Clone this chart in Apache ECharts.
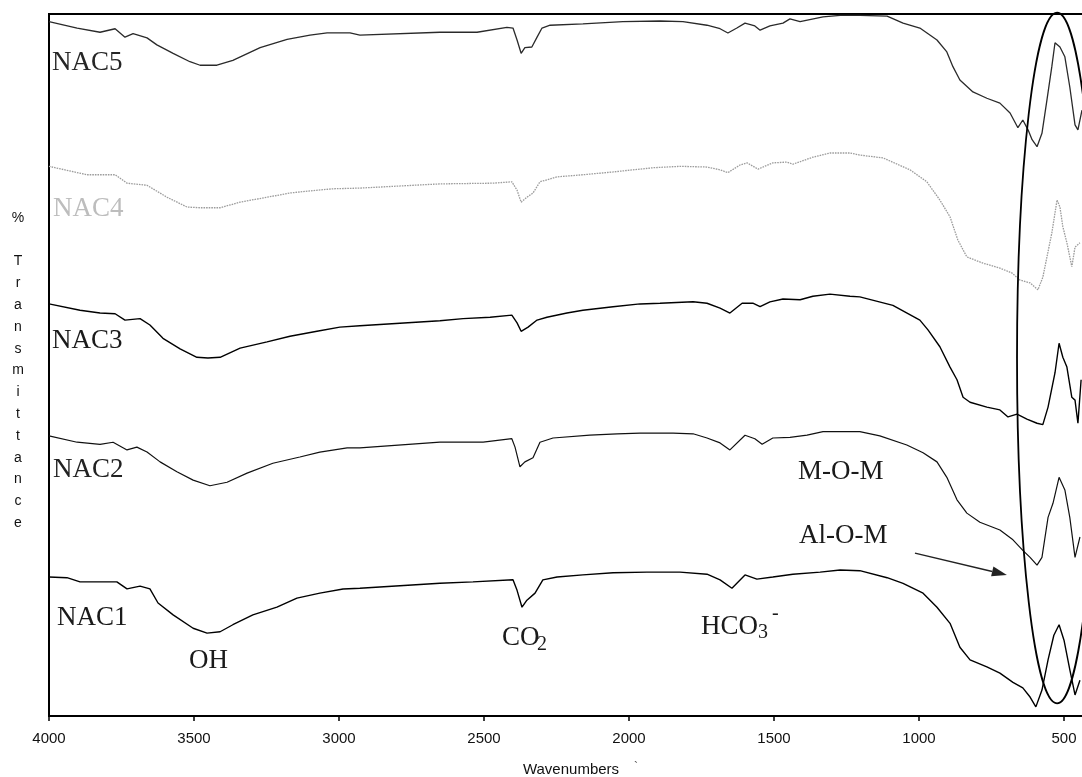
<!DOCTYPE html>
<html>
<head>
<meta charset="utf-8">
<script src="https://cdn.jsdelivr.net/npm/echarts@6/dist/echarts.min.js"></script>
<style>
  html, body { margin: 0; padding: 0; background: #fff; }
  #chart { width: 1082px; height: 777px; }
</style>
</head>
<body>
<div id="chart"></div>
<script>
// FTIR spectra of the NAC samples, stacked (offset % transmittance), wavenumber in cm-1.
const xTicks = [4000, 3500, 3000, 2500, 2000, 1500, 1000, 500];

const nac5 = [
  [4000, 98.9], [3903, 98.0], [3824, 97.4], [3772, 97.9], [3738, 96.7], [3710, 97.2],
  [3662, 96.6], [3628, 95.6], [3572, 94.4], [3514, 93.2], [3479, 92.7], [3421, 92.7],
  [3366, 93.4], [3272, 95.2], [3179, 96.4], [3100, 97.0], [3041, 97.3], [2962, 97.3],
  [2928, 97.0], [2652, 97.4], [2524, 97.4], [2421, 98.1], [2400, 98.0], [2386, 96.3],
  [2372, 94.4], [2359, 95.2], [2335, 95.3], [2317, 96.7], [2300, 98.0], [2272, 98.4],
  [2159, 98.6], [2021, 98.9], [1893, 99.0], [1814, 98.9], [1731, 98.4], [1686, 97.9],
  [1659, 97.3], [1628, 98.0], [1600, 98.7], [1566, 98.3], [1548, 97.7], [1514, 98.3],
  [1469, 98.7], [1445, 99.3], [1410, 98.9], [1331, 99.6], [1272, 99.8], [1204, 99.8],
  [1110, 99.7], [1055, 98.7], [997, 98.0], [938, 96.3], [904, 94.6], [883, 92.5],
  [859, 90.6], [814, 88.9], [766, 88.0], [721, 87.3], [686, 85.9], [659, 83.8],
  [642, 84.9], [624, 83.5], [610, 82.1], [593, 81.1], [576, 83.0], [559, 87.7],
  [542, 92.5], [531, 95.9], [514, 95.3], [497, 93.9], [480, 89.6], [462, 84.2],
  [452, 83.5], [438, 86.3]
];

const nac4 = [
  [4000, 78.3], [3869, 77.1], [3772, 77.1], [3731, 75.9], [3662, 75.6], [3593, 73.9],
  [3524, 72.5], [3479, 72.4], [3410, 72.4], [3341, 73.2], [3248, 73.9], [3169, 74.5],
  [3100, 74.8], [3021, 75.1], [2928, 75.2], [2652, 75.8], [2469, 75.9], [2404, 76.1],
  [2386, 74.9], [2372, 73.2], [2352, 73.9], [2331, 74.5], [2307, 76.1], [2248, 76.8],
  [2159, 77.1], [2055, 77.5], [1917, 78.1], [1824, 78.3], [1731, 78.2], [1686, 77.8],
  [1659, 77.4], [1617, 78.5], [1593, 78.8], [1555, 77.9], [1504, 78.8], [1455, 78.9],
  [1435, 78.6], [1366, 79.6], [1307, 80.2], [1238, 80.2], [1204, 79.9], [1124, 79.5],
  [1031, 77.8], [973, 76.1], [928, 73.5], [893, 71.1], [866, 67.8], [835, 65.4],
  [779, 64.5], [721, 63.8], [679, 63.1], [652, 62.1], [617, 61.7], [590, 60.7],
  [573, 62.5], [542, 68.8], [524, 73.5], [514, 72.5], [504, 69.7], [490, 67.4],
  [473, 64.0], [462, 66.8], [445, 67.4]
];

const nac3 = [
  [4000, 58.7], [3893, 57.8], [3824, 57.4], [3772, 57.3], [3738, 56.4], [3686, 56.6],
  [3652, 55.7], [3607, 53.8], [3548, 52.3], [3490, 51.1], [3452, 51.0], [3410, 51.1],
  [3341, 52.4], [3248, 53.3], [3169, 54.1], [3076, 54.8], [2997, 55.4], [2928, 55.6],
  [2652, 56.3], [2572, 56.6], [2479, 56.8], [2404, 57.1], [2386, 56.0], [2372, 54.8],
  [2348, 55.4], [2317, 56.4], [2283, 56.8], [2214, 57.4], [2159, 57.8], [2055, 58.3],
  [1962, 58.7], [1893, 58.8], [1779, 59.0], [1731, 58.8], [1686, 58.1], [1652, 57.4],
  [1610, 58.8], [1573, 58.8], [1548, 58.3], [1514, 59.0], [1469, 59.4], [1410, 59.3],
  [1366, 59.8], [1307, 60.1], [1238, 59.8], [1204, 59.7], [1090, 58.5], [997, 56.4],
  [969, 55.0], [928, 52.6], [893, 49.7], [869, 47.9], [848, 45.4], [824, 44.7],
  [766, 44.0], [721, 43.6], [693, 42.6], [662, 43.0], [628, 42.3], [593, 41.7],
  [573, 41.5], [555, 44.0], [531, 48.9], [517, 53.1], [504, 51.1], [490, 49.7],
  [473, 45.4], [462, 45.0], [452, 41.7], [441, 47.9]
];

const nac2 = [
  [4000, 39.9], [3903, 39.0], [3824, 38.7], [3779, 39.0], [3731, 37.9], [3697, 38.3],
  [3662, 37.6], [3617, 36.2], [3559, 34.8], [3503, 33.6], [3445, 32.8], [3386, 33.3],
  [3317, 34.6], [3228, 36.0], [3135, 36.9], [3066, 37.6], [2972, 38.2], [2928, 38.2],
  [2652, 39.0], [2503, 39.0], [2404, 39.5], [2393, 38.3], [2376, 35.5], [2359, 36.2],
  [2331, 36.8], [2307, 39.0], [2262, 39.6], [2135, 40.0], [2041, 40.2], [1962, 40.3],
  [1848, 40.3], [1779, 40.2], [1731, 39.6], [1686, 38.9], [1652, 37.9], [1600, 40.0],
  [1566, 39.5], [1541, 38.7], [1504, 39.6], [1445, 39.7], [1386, 40.0], [1331, 40.5],
  [1272, 40.5], [1204, 40.5], [1135, 39.9], [1042, 38.6], [986, 37.5], [938, 36.2],
  [904, 34.0], [869, 30.8], [835, 28.9], [790, 27.6], [721, 26.5], [676, 25.1],
  [642, 23.6], [617, 22.6], [593, 21.5], [576, 22.6], [555, 28.3], [538, 30.3],
  [517, 34.0], [497, 32.2], [480, 28.3], [462, 22.6], [445, 25.5]
];

const nac1 = [
  [4000, 19.8], [3938, 19.7], [3893, 19.1], [3824, 19.1], [3766, 19.1], [3731, 18.1],
  [3686, 18.5], [3652, 18.1], [3624, 16.1], [3572, 14.4], [3503, 12.5], [3455, 11.8],
  [3410, 12.0], [3366, 13.0], [3297, 14.4], [3214, 15.5], [3145, 16.8], [3066, 17.5],
  [2986, 18.1], [2928, 18.2], [2652, 18.9], [2538, 19.1], [2400, 19.4], [2386, 17.9],
  [2369, 15.5], [2352, 16.5], [2324, 17.5], [2297, 19.4], [2248, 19.8], [2159, 20.1],
  [2055, 20.4], [1938, 20.5], [1824, 20.5], [1731, 20.2], [1686, 19.4], [1645, 18.2],
  [1600, 20.1], [1559, 19.5], [1504, 19.8], [1435, 20.2], [1341, 20.5], [1272, 20.8],
  [1204, 20.7], [1110, 19.7], [1055, 18.9], [986, 17.5], [938, 15.5], [893, 13.2],
  [859, 9.8], [824, 8.0], [766, 7.0], [721, 6.1], [676, 4.8], [642, 4.0],
  [617, 2.7], [597, 1.3], [576, 3.7], [555, 8.0], [535, 11.5], [517, 13.0],
  [500, 10.8], [480, 6.6], [462, 3.0], [445, 5.1]
];

// Ellipse around the metal-oxygen bands: centre [wavenumber, value], radii [cm-1, value]
const ellipseCenter = [524, 51.0];
const ellipseRadius = [138, 49.2];
// Arrow pointing at the Al-O-M band: from / to
const arrowFrom = [1014, 23.2];
const arrowTo = [697, 20.1];

const serif = '"Liberation Serif", "Times New Roman", serif';
const sans = '"Liberation Sans", Arial, sans-serif';

const traces = [
  { name: 'NAC5', data: nac5, color: '#2a2a2a', width: 1.3, type: 'solid' },
  { name: 'NAC4', data: nac4, color: '#9c9c9c', width: 1.3, type: [1.6, 1] },
  { name: 'NAC3', data: nac3, color: '#000', width: 1.4, type: 'solid' },
  { name: 'NAC2', data: nac2, color: '#111', width: 1.2, type: 'solid' },
  { name: 'NAC1', data: nac1, color: '#000', width: 1.4, type: 'solid' }
];

const chart = echarts.init(document.getElementById('chart'), null, { renderer: 'canvas' });

chart.setOption({
  animation: false,
  backgroundColor: '#fff',
  grid: {
    left: 49, right: -11, top: 14, bottom: 61,
    outerBoundsMode: 'none', containLabel: false,
    show: true, borderColor: '#000', borderWidth: 2
  },
  xAxis: {
    type: 'value', inverse: true, min: 400, max: 4000,
    name: 'Wavenumbers', nameLocation: 'middle', nameGap: 46,
    nameTextStyle: { fontFamily: sans, fontSize: 15, color: '#111' },
    splitLine: { show: false },
    axisLine: { lineStyle: { color: '#000', width: 2 } },
    axisTick: { customValues: xTicks, length: 5, lineStyle: { color: '#000', width: 1.5 } },
    axisLabel: {
      customValues: xTicks, margin: 15, fontFamily: sans, fontSize: 15, color: '#111',
      formatter: v => String(v)
    }
  },
  yAxis: { type: 'value', min: 0, max: 100, show: false, splitLine: { show: false } },
  series: traces.map(t => ({
    name: t.name, type: 'line', data: t.data, showSymbol: false, symbol: 'none',
    lineStyle: { color: t.color, width: t.width, type: t.type }
  }))
});

// Annotations placed through the chart's own coordinate conversion
const toPx = p => chart.convertToPixel({ gridIndex: 0 }, p);
const c = toPx(ellipseCenter);
const ex = toPx([ellipseCenter[0] - ellipseRadius[0], ellipseCenter[1]]);
const ey = toPx([ellipseCenter[0], ellipseCenter[1] + ellipseRadius[1]]);
const rx = Math.abs(ex[0] - c[0]);
const ry = Math.abs(ey[1] - c[1]);

const a0 = toPx(arrowFrom);
const a1 = toPx(arrowTo);
const ang = Math.atan2(a1[1] - a0[1], a1[0] - a0[0]);
const headLen = 15, headHalf = 5;
const hb = [a1[0] - headLen * Math.cos(ang), a1[1] - headLen * Math.sin(ang)];
const head = [
  a1,
  [hb[0] + headHalf * Math.sin(ang), hb[1] - headHalf * Math.cos(ang)],
  [hb[0] - headHalf * Math.sin(ang), hb[1] + headHalf * Math.cos(ang)]
];

function label(text, x, y, opts) {
  return {
    type: 'text', x: x, y: y, z: 10,
    style: Object.assign({
      text: text, font: '27px ' + serif, fill: '#1a1a1a',
      align: 'left', verticalAlign: 'middle', textAlign: 'left', textVerticalAlign: 'middle'
    }, opts || {})
  };
}

const yTitle = ['%', ' ', 'T', 'r', 'a', 'n', 's', 'm', 'i', 't', 't', 'a', 'n', 'c', 'e'];

chart.setOption({
  graphic: [
    {
      type: 'ellipse', z: 5,
      shape: { cx: c[0], cy: c[1], rx: rx, ry: ry },
      style: { fill: 'none', stroke: '#000', lineWidth: 1.8 }
    },
    {
      type: 'line', z: 5,
      shape: { x1: a0[0], y1: a0[1], x2: hb[0], y2: hb[1] },
      style: { stroke: '#222', lineWidth: 1.5 }
    },
    {
      type: 'polygon', z: 5,
      shape: { points: head },
      style: { fill: '#222' }
    },
    label('NAC5', 52, 63, { fill: '#262626' }),
    label('NAC4', 53, 209, { fill: '#bdbdbd' }),
    label('NAC3', 52, 341),
    label('NAC2', 53, 470, { fill: '#222' }),
    label('NAC1', 57, 618),
    label('OH', 189, 661),
    label('CO', 502, 638),
    label('2', 537, 645, { font: '20px ' + serif }),
    label('HCO', 701, 627),
    label('3', 758, 633, { font: '20px ' + serif }),
    label('-', 772, 614, { font: '20px ' + serif }),
    label('M-O-M', 798, 472),
    label('Al-O-M', 799, 536),
    label('`', 634, 768, { font: '12px ' + sans, fill: '#555' }),
    {
      type: 'text', x: 18, y: 207, z: 10,
      style: {
        text: yTitle.join('\n'), font: '14px ' + sans, fill: '#111', lineHeight: 21.8,
        align: 'center', verticalAlign: 'top', textAlign: 'center', textVerticalAlign: 'top'
      }
    }
  ]
});
</script>
</body>
</html>
